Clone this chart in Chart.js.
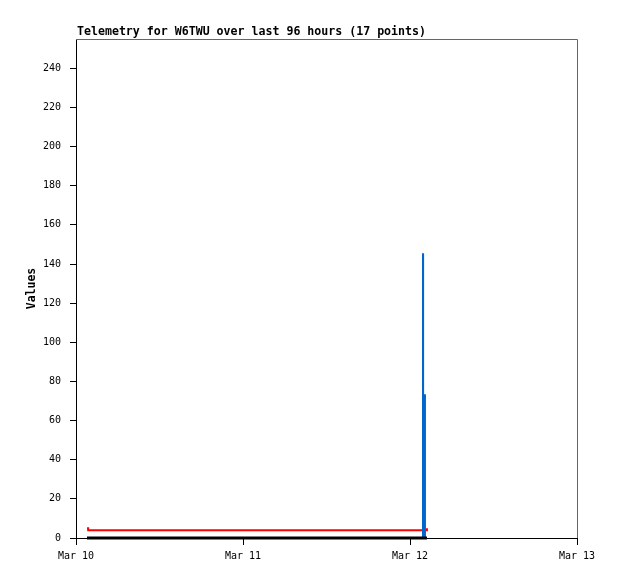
<!DOCTYPE html>
<html>
<head>
<meta charset="utf-8">
<script src="https://cdn.jsdelivr.net/npm/chart.js@4/dist/chart.umd.min.js"></script>
<style>
  html, body { margin: 0; padding: 0; background: #fff; }
</style>
</head>
<body>
<canvas id="chart" width="618" height="579"></canvas>
<script>
// telemetry samples, "MM-DD hh:mm"
const times = [
  '03-10 01:35', '03-10 01:45', '03-10 08:10', '03-10 14:20', '03-10 20:30',
  '03-11 02:40', '03-11 08:50', '03-11 15:00', '03-11 21:10', '03-12 01:00',
  '03-12 01:30', '03-12 01:52', '03-12 01:53', '03-12 02:09', '03-12 02:14',
  '03-12 02:20', '03-12 02:26'
];
const redValues   = [5, 4, 4, 4, 4, 4, 4, 4, 4, 4, 4, 4, 4, 4, 4, 4, 5];
const blueValues  = [0, 0, 0, 0, 0, 0, 0, 0, 0, 0, 0, 145, 73, 0, 0, 0, 0];
const blackValues = [0, 0, 0, 0, 0, 0, 0, 0, 0, 0, 0, 0, 0, 0, 0, 0, 0];

const xTickLabels = ['Mar 10', 'Mar 11', 'Mar 12', 'Mar 13'];
const xTickHours  = [0, 24, 48, 72];
const yTickValues = [0, 20, 40, 60, 80, 100, 120, 140, 160, 180, 200, 220, 240];
const titleText = 'Telemetry for W6TWU over last 96 hours (17 points)';

// hours since Mar 10 00:00
function toHours(s) {
  const day = parseInt(s.slice(3, 5), 10);
  const h = parseInt(s.slice(6, 8), 10);
  const m = parseInt(s.slice(9, 11), 10);
  return (day - 10) * 24 + h + m / 60;
}
const hours = times.map(toHours);
const pts = vals => vals.map((v, i) => ({ x: hours[i], y: v }));

const mono = 'DejaVu Sans Mono';

// frame + title
const framePlugin = {
  id: 'frame',
  beforeDatasetsDraw(chart) {
    const { ctx, chartArea: a } = chart;
    ctx.save();
    ctx.strokeStyle = '#666';
    ctx.lineWidth = 1;
    ctx.beginPath();
    ctx.moveTo(a.left, a.top + 0.5);
    ctx.lineTo(a.right + 0.5, a.top + 0.5);
    ctx.lineTo(a.right + 0.5, a.bottom);
    ctx.stroke();
    ctx.restore();
  },
  afterDraw(chart) {
    const { ctx, chartArea: a } = chart;
    ctx.save();
    ctx.fillStyle = '#000';
    ctx.font = 'bold 11.6px "' + mono + '"';
    ctx.textBaseline = 'alphabetic';
    ctx.textAlign = 'left';
    ctx.fillText(titleText, a.left + 1, 35);
    ctx.restore();
  }
};

const common = { pointRadius: 0, stepped: true, fill: false, clip: false, borderCapStyle: 'butt' };

new Chart(document.getElementById('chart'), {
  type: 'line',
  data: {
    datasets: [
      { ...common, label: 'red', data: pts(redValues), borderColor: '#ff0000', borderWidth: 2, order: 3 },
      { ...common, label: 'blue', data: pts(blueValues), borderColor: '#0066cc', borderWidth: 2, order: 2 },
      { ...common, label: 'black', data: pts(blackValues), borderColor: '#000000', borderWidth: 3, order: 1 }
    ]
  },
  options: {
    responsive: false,
    animation: false,
    layout: { padding: { top: 39, right: 41, bottom: 0, left: 0 } },
    plugins: {
      legend: { display: false },
      tooltip: { enabled: false }
    },
    scales: {
      x: {
        type: 'linear',
        min: 0,
        max: 72,
        afterBuildTicks(scale) { scale.ticks = xTickHours.map(v => ({ value: v })); },
        afterFit(scale) { scale.height = 41; },
        ticks: {
          autoSkip: false,
          maxRotation: 0,
          padding: 5,
          color: '#000',
          font: { family: mono, size: 10 },
          callback: (v) => xTickLabels[xTickHours.indexOf(v)]
        },
        grid: { drawOnChartArea: false, drawTicks: true, tickLength: 7, tickColor: '#000' },
        border: { color: '#000', width: 1 }
      },
      y: {
        min: 0,
        max: 255,
        afterBuildTicks(scale) { scale.ticks = yTickValues.map(v => ({ value: v })); },
        afterFit(scale) { scale.width = 76; },
        ticks: {
          padding: 9,
          color: '#000',
          font: { family: mono, size: 10 }
        },
        grid: { drawOnChartArea: false, drawTicks: true, tickLength: 6, tickColor: '#000' },
        border: { color: '#000', width: 1 },
        title: {
          display: true,
          text: 'Values',
          color: '#000',
          font: { family: mono, size: 11.5, weight: 'bold' },
          padding: { top: 25, bottom: 0 }
        }
      }
    }
  },
  plugins: [framePlugin]
});
</script>
</body>
</html>
